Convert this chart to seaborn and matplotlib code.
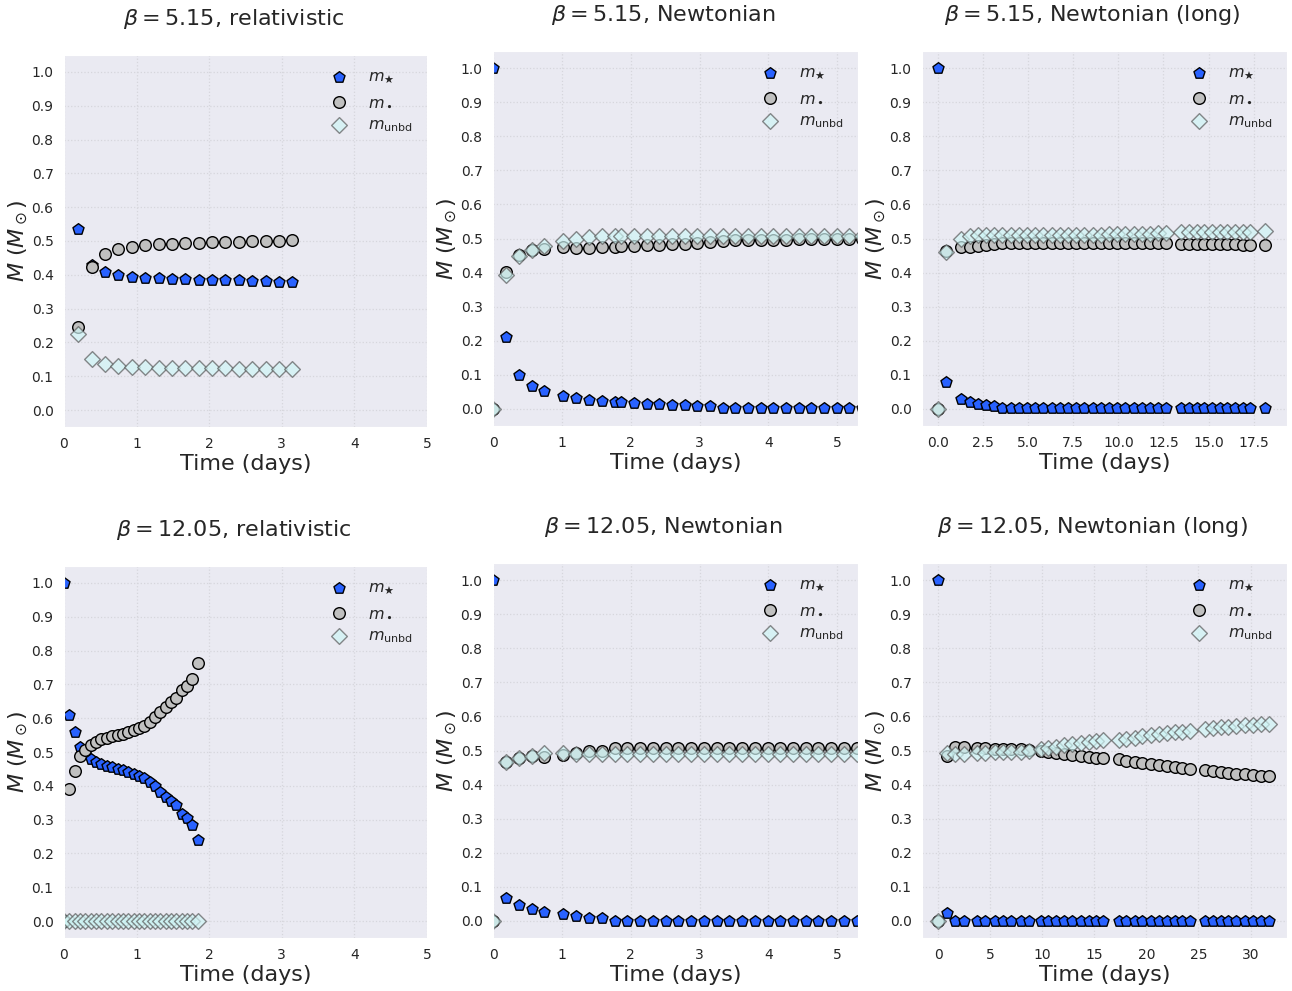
import matplotlib
matplotlib.use("Agg")
import matplotlib.pyplot as plt
import seaborn as sns
import pandas as pd

# ---------------- data: masses (solar masses) vs time (days) ----------------
# beta = 5.15, relativistic
t_b5_rel = [0.198, 0.382, 0.566, 0.750, 0.935, 1.119, 1.303, 1.487, 1.672, 1.856,
            2.040, 2.224, 2.408, 2.593, 2.777, 2.961, 3.145]
star_b5_rel = [0.536, 0.430, 0.409, 0.398, 0.394, 0.391, 0.390, 0.388, 0.387, 0.386,
               0.385, 0.385, 0.384, 0.383, 0.382, 0.380, 0.378]
bh_b5_rel = [0.246, 0.424, 0.461, 0.476, 0.483, 0.487, 0.490, 0.492, 0.494, 0.495,
             0.496, 0.497, 0.498, 0.499, 0.500, 0.501, 0.502]
unbd_b5_rel = [0.224, 0.151, 0.136, 0.130, 0.127, 0.126, 0.125, 0.124, 0.124, 0.123,
               0.123, 0.123, 0.122, 0.122, 0.122, 0.122, 0.122]

# beta = 5.15, Newtonian
t_b5_newt = [0.0, 0.190, 0.383, 0.567, 0.747, 1.023, 1.210, 1.397, 1.580, 1.766,
             1.860, 2.045, 2.230, 2.414, 2.598, 2.782, 2.966, 3.150, 3.334, 3.518,
             3.702, 3.886, 4.070, 4.254, 4.438, 4.622, 4.806, 4.990, 5.174, 5.358]
star_b5_newt = [1.0, 0.211, 0.100, 0.068, 0.052, 0.037, 0.032, 0.027, 0.022, 0.019,
                0.019, 0.018, 0.015, 0.014, 0.012, 0.011, 0.010, 0.009, 0.003, 0.003,
                0.003, 0.002, 0.002, 0.002, 0.002, 0.002, 0.002, 0.002, 0.002, 0.002]
bh_b5_newt = [0.0, 0.402, 0.452, 0.465, 0.469, 0.475, 0.473, 0.473, 0.474, 0.475,
              0.477, 0.478, 0.480, 0.481, 0.483, 0.485, 0.487, 0.489, 0.493, 0.495,
              0.497, 0.497, 0.497, 0.497, 0.498, 0.498, 0.498, 0.498, 0.498, 0.498]
unbd_b5_newt = [0.0, 0.392, 0.448, 0.467, 0.479, 0.492, 0.500, 0.504, 0.508, 0.508,
                0.506, 0.508, 0.508, 0.508, 0.508, 0.508, 0.508, 0.508, 0.507, 0.506,
                0.506, 0.506, 0.506, 0.506, 0.506, 0.506, 0.506, 0.506, 0.506, 0.506]

# beta = 5.15, Newtonian (long run)
t_b5_long = [0.0, 0.465,
             1.290, 1.745, 2.200, 2.655, 3.110, 3.565, 4.020, 4.475, 4.930, 5.385,
             5.840, 6.295, 6.750, 7.205, 7.660, 8.115, 8.570, 9.025, 9.480, 9.935,
             10.390, 10.845, 11.300, 11.755, 12.210, 12.665,
             13.480, 13.907, 14.334, 14.761, 15.188, 15.615, 16.042, 16.469, 16.896, 17.323,
             18.140]
star_b5_long = [1.0, 0.079,
                0.030, 0.021, 0.016, 0.011, 0.008, 0.004, 0.002, 0.002, 0.002, 0.002,
                0.002, 0.002, 0.002, 0.002, 0.002, 0.002, 0.002, 0.002, 0.002, 0.002,
                0.002, 0.002, 0.002, 0.002, 0.002, 0.002,
                0.002, 0.002, 0.002, 0.002, 0.002, 0.002, 0.002, 0.002, 0.002, 0.002,
                0.002]
bh_b5_long = [0.0, 0.463,
              0.474, 0.476, 0.479, 0.482, 0.484, 0.486, 0.487, 0.488, 0.488, 0.488,
              0.488, 0.488, 0.488, 0.488, 0.488, 0.488, 0.488, 0.488, 0.488, 0.488,
              0.488, 0.488, 0.488, 0.488, 0.488, 0.488,
              0.485, 0.485, 0.484, 0.484, 0.484, 0.483, 0.483, 0.483, 0.482, 0.482,
              0.480]
unbd_b5_long = [0.0, 0.460,
                0.500, 0.508, 0.510, 0.509, 0.509, 0.509, 0.509, 0.509, 0.509, 0.509,
                0.509, 0.510, 0.510, 0.510, 0.510, 0.510, 0.511, 0.511, 0.512, 0.512,
                0.513, 0.513, 0.514, 0.514, 0.515, 0.515,
                0.518, 0.518, 0.518, 0.519, 0.519, 0.519, 0.519, 0.520, 0.520, 0.520,
                0.522]

# beta = 12.05, relativistic
t_b12_rel = [0.0, 0.074, 0.147, 0.221, 0.295, 0.368, 0.442, 0.516, 0.589, 0.663,
             0.737, 0.810, 0.884, 0.958, 1.031, 1.105, 1.179, 1.252, 1.326, 1.400,
             1.473, 1.547, 1.621, 1.694, 1.768, 1.842]
star_b12_rel = [1.0, 0.609, 0.559, 0.515, 0.493, 0.478, 0.470, 0.464, 0.459, 0.455,
                0.451, 0.447, 0.442, 0.436, 0.430, 0.423, 0.412, 0.398, 0.383, 0.367,
                0.354, 0.342, 0.318, 0.305, 0.284, 0.239]
bh_b12_rel = [0.0, 0.392, 0.443, 0.488, 0.507, 0.522, 0.531, 0.537, 0.542, 0.546,
              0.550, 0.554, 0.559, 0.565, 0.571, 0.578, 0.589, 0.603, 0.618, 0.634,
              0.647, 0.659, 0.683, 0.696, 0.717, 0.762]
unbd_b12_rel = [0.0, 0.0, 0.0, 0.0, 0.0, 0.0, 0.0, 0.0, 0.0, 0.0,
                0.0, 0.0, 0.0, 0.0, 0.0, 0.0, 0.0, 0.0, 0.0, 0.0,
                0.0, 0.0, 0.0, 0.0, 0.0, 0.0]

# beta = 12.05, Newtonian
t_b12_newt = [0.0, 0.190, 0.383, 0.567, 0.747, 1.023, 1.210, 1.397, 1.580, 1.766,
              1.951, 2.136, 2.321, 2.506, 2.691, 2.876, 3.061, 3.246, 3.431, 3.616,
              3.801, 3.986, 4.171, 4.356, 4.541, 4.726, 4.911, 5.096, 5.281]
star_b12_newt = [1.0, 0.068, 0.046, 0.034, 0.026, 0.019, 0.015, 0.010, 0.010, 0.001,
                 0.001, 0.001, 0.001, 0.001, 0.001, 0.001, 0.001, 0.001, 0.001, 0.001,
                 0.001, 0.001, 0.001, 0.001, 0.001, 0.001, 0.001, 0.001, 0.001]
bh_b12_newt = [0.0, 0.466, 0.477, 0.483, 0.481, 0.488, 0.494, 0.499, 0.499, 0.508,
               0.508, 0.508, 0.508, 0.508, 0.508, 0.508, 0.508, 0.508, 0.508, 0.508,
               0.508, 0.508, 0.508, 0.508, 0.508, 0.508, 0.508, 0.508, 0.508]
unbd_b12_newt = [0.0, 0.466, 0.477, 0.483, 0.493, 0.493, 0.491, 0.489, 0.489, 0.491,
                 0.491, 0.491, 0.491, 0.491, 0.491, 0.491, 0.491, 0.491, 0.491, 0.491,
                 0.491, 0.491, 0.491, 0.491, 0.491, 0.491, 0.491, 0.491, 0.491]

# beta = 12.05, Newtonian (long run)
t_b12_long = [0.0, 0.865, 1.67, 2.47, 3.75, 4.55, 5.42, 6.22, 7.05, 7.92,
              8.72, 9.84, 10.58, 11.35, 12.08, 12.88, 13.68, 14.49, 15.13, 15.87,
              17.37, 18.08, 18.88, 19.62, 20.42, 21.22, 21.96, 22.76, 23.46, 24.20,
              25.64, 26.41, 27.15, 27.88, 28.65, 29.45, 30.19, 30.99, 31.80]
star_b12_long = [1.0, 0.024, 0.001, 0.001, 0.001, 0.001, 0.001, 0.001, 0.001, 0.001,
                 0.001, 0.001, 0.001, 0.001, 0.001, 0.001, 0.001, 0.001, 0.001, 0.001,
                 0.001, 0.001, 0.001, 0.001, 0.001, 0.001, 0.001, 0.001, 0.001, 0.001,
                 0.001, 0.001, 0.001, 0.001, 0.001, 0.001, 0.001, 0.001, 0.001]
bh_b12_long = [0.0, 0.483, 0.509, 0.509, 0.506, 0.506, 0.505, 0.504, 0.503, 0.503,
               0.501, 0.499, 0.496, 0.493, 0.491, 0.486, 0.483, 0.481, 0.479, 0.477,
               0.474, 0.470, 0.467, 0.464, 0.460, 0.457, 0.454, 0.452, 0.450, 0.447,
               0.442, 0.440, 0.437, 0.435, 0.432, 0.430, 0.428, 0.426, 0.425]
unbd_b12_long = [0.0, 0.493, 0.491, 0.491, 0.494, 0.494, 0.495, 0.496, 0.497, 0.497,
                 0.499, 0.503, 0.508, 0.511, 0.516, 0.519, 0.523, 0.525, 0.528, 0.530,
                 0.530, 0.535, 0.538, 0.542, 0.545, 0.548, 0.550, 0.553, 0.555, 0.557,
                 0.562, 0.565, 0.568, 0.569, 0.571, 0.574, 0.576, 0.577, 0.577]

titles = [r"$\beta = 5.15$, relativistic", r"$\beta = 5.15$, Newtonian",
          r"$\beta = 5.15$, Newtonian (long)", r"$\beta = 12.05$, relativistic",
          r"$\beta = 12.05$, Newtonian", r"$\beta = 12.05$, Newtonian (long)"]
series_labels = [r"$m_\bigstar$", r"$m_\bullet$", r"$m_{\rm unbd}$"]

runs = [
    (t_b5_rel, star_b5_rel, bh_b5_rel, unbd_b5_rel),
    (t_b5_newt, star_b5_newt, bh_b5_newt, unbd_b5_newt),
    (t_b5_long, star_b5_long, bh_b5_long, unbd_b5_long),
    (t_b12_rel, star_b12_rel, bh_b12_rel, unbd_b12_rel),
    (t_b12_newt, star_b12_newt, bh_b12_newt, unbd_b12_newt),
    (t_b12_long, star_b12_long, bh_b12_long, unbd_b12_long),
]

# ---------------- styling ----------------
sns.set_style("darkgrid", {"grid.linestyle": ":", "grid.color": "#d6d6dc",
                           "axes.facecolor": "#eaeaf2"})
plt.rcParams["font.family"] = ["DejaVu Sans"]
plt.rcParams["mathtext.fontset"] = "dejavusans"

W, H = 1292, 991
fig = plt.figure(figsize=(W / 100, H / 100), dpi=100)

# axes boxes in pixels: (left, top, right, bottom)
boxes = [(64, 55, 427, 427), (493, 51, 858, 426), (922, 51, 1287, 426),
         (64, 566, 427, 938), (493, 563, 858, 938), (922, 563, 1287, 938)]
xlims = [(0, 5), (0, 5.3), (-0.89, 19.35), (0, 5), (0, 5.3), (-1.54, 33.5)]
xticks = [[0, 1, 2, 3, 4, 5], [0, 1, 2, 3, 4, 5],
          [0.0, 2.5, 5.0, 7.5, 10.0, 12.5, 15.0, 17.5],
          [0, 1, 2, 3, 4, 5], [0, 1, 2, 3, 4, 5], [0, 5, 10, 15, 20, 25, 30]]
xtick_fmt = ["{:.0f}", "{:.0f}", "{:.1f}", "{:.0f}", "{:.0f}", "{:.0f}"]
yticks = [0.0, 0.1, 0.2, 0.3, 0.4, 0.5, 0.6, 0.7, 0.8, 0.9, 1.0]

star_kw = dict(marker="p", s=70, color="#2962ff", edgecolor="black", linewidth=1.0)
bh_kw = dict(marker="o", s=70, color="#c0c0c0", edgecolor="black", linewidth=1.0)
unbd_kw = dict(marker="D", s=64, color="#cff5f5", edgecolor="#5a5a5a",
               linewidth=1.0, alpha=0.7)

for i, (t, ms, mb, mu) in enumerate(runs):
    l, tp, r, b = boxes[i]
    ax = fig.add_axes([l / W, 1 - b / H, (r - l) / W, (b - tp) / H])
    df = pd.DataFrame({"t": t, "star": ms, "bh": mb, "unbd": mu})
    sns.scatterplot(data=df, x="t", y="star", ax=ax, label=series_labels[0], **star_kw)
    sns.scatterplot(data=df, x="t", y="bh", ax=ax, label=series_labels[1], **bh_kw)
    sns.scatterplot(data=df, x="t", y="unbd", ax=ax, label=series_labels[2], **unbd_kw)

    ax.set_xlim(*xlims[i])
    ax.set_ylim(-0.05, 1.05)
    ax.set_xticks(xticks[i])
    ax.set_xticklabels([xtick_fmt[i].format(v) for v in xticks[i]])
    ax.set_yticks(yticks)
    ax.set_yticklabels(["{:.1f}".format(v) for v in yticks])
    ax.tick_params(labelsize=10, colors="#262626", pad=4)
    ax.grid(True, linestyle=":", color="#d6d6dc", linewidth=0.9)
    ax.set_xlabel("Time (days)", fontsize=16, color="#262626", labelpad=2)
    ax.set_ylabel(r"$M$ ($M_\odot$)", fontsize=16, color="#262626", labelpad=1)
    ax.text(0.467, 1.0 + 30 / (b - tp), titles[i], transform=ax.transAxes,
            ha="center", va="baseline", fontsize=16, color="#262626")
    ax.legend(loc="upper right", frameon=False, fontsize=11.5)

fig.savefig("out.png", dpi=100)
